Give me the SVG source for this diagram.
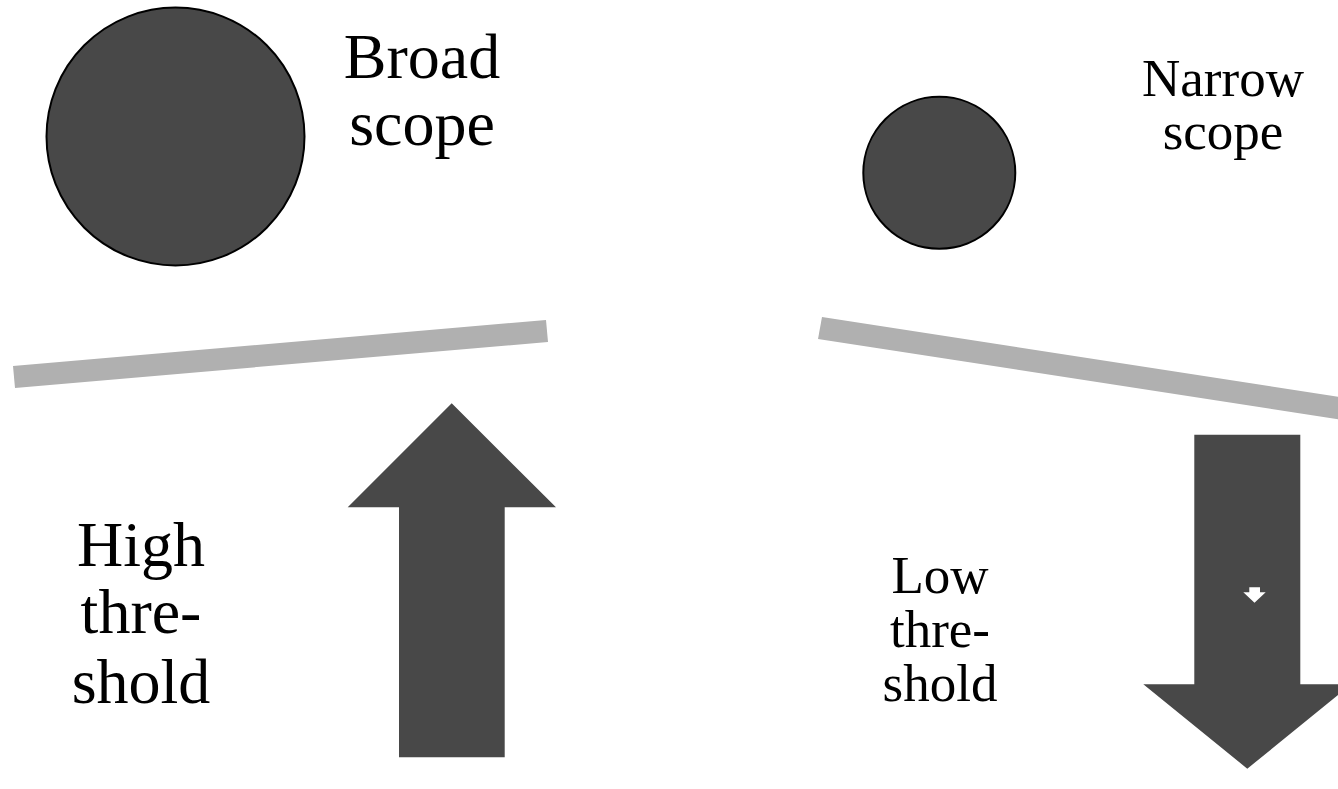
<svg xmlns="http://www.w3.org/2000/svg" width="1338" height="789" viewBox="0 0 1338 789">
<style>
.big{font-family:"Liberation Serif","DejaVu Serif",serif;font-size:64px;fill:#000;text-anchor:middle}
.sm{font-family:"Liberation Serif","DejaVu Serif",serif;font-size:53px;fill:#000;text-anchor:middle}
.ball{fill:#484848;stroke:#000;stroke-width:2}
.bar{fill:#b0b0b0}
.arr{fill:#484848}
</style>
<rect width="1338" height="789" fill="#fff"/>
<g id="broad">
<circle class="ball" cx="175.5" cy="136.5" r="129"/>
<text class="big" x="422" y="78">Broad</text>
<text class="big" x="422" y="145">scope</text>
</g>
<g id="narrow">
<circle class="ball" cx="939.3" cy="172.8" r="76"/>
<text class="sm" x="1223" y="96">Narrow</text>
<text class="sm" x="1223" y="149">scope</text>
</g>
<g id="connectors">
<polygon class="bar" points="13,366 15,388 548,342 546,320"/>
<polygon class="bar" points="822,317 818,339 1340,419.5 1340,397"/>
</g>
<g id="high">
<polygon class="arr" points="451.7,403.3 556,507.3 504.7,507.3 504.7,757.3 399,757.3 399,507.3 347.7,507.3"/>
<text class="big" x="141" y="566">High</text>
<text class="big" x="141" y="633">thre-</text>
<text class="big" x="141" y="703">shold</text>
</g>
<g id="low">
<polygon class="arr" points="1194.3,434.7 1300.3,434.7 1300.3,684.3 1351.3,684.3 1247.3,768.7 1143.3,684.3 1194.3,684.3"/>
<polygon fill="#fff" points="1249.3,587.3 1260,587.3 1260,592.3 1265.7,592.3 1254.5,602.7 1243.3,592.3 1249.3,592.3"/>
<text class="sm" x="940" y="593">Low</text>
<text class="sm" x="940" y="647">thre-</text>
<text class="sm" x="940" y="701">shold</text>
</g>
</svg>
